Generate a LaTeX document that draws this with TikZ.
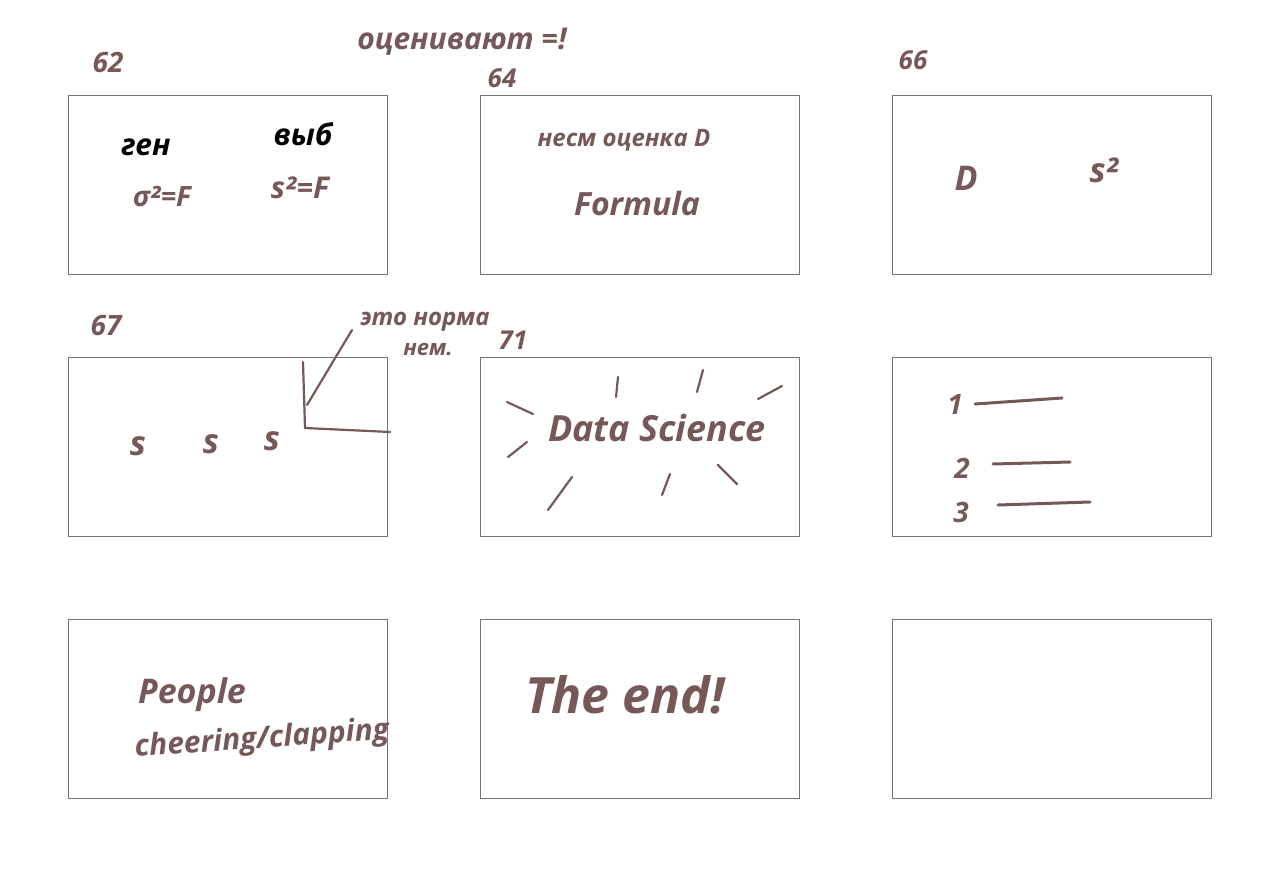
\documentclass[tikz,border=0pt]{standalone}
\usepackage{fontspec}
\setmainfont{Open Sans}
\begin{document}
\begin{tikzpicture}[x=1pt,y=-1pt,
  frame/.style={draw=black!55,line width=0.8pt,minimum width=319pt,minimum height=179pt,anchor=north west,inner sep=0pt},
  ink/.style={text=inkc,font=\fontsize{#1}{#1}\selectfont\itshape\bfseries,inner sep=0pt},
  inkb/.style={text=black,font=\fontsize{#1}{#1}\selectfont\bfseries\itshape,inner sep=0pt},
  stroke/.style={draw=inkc,line width=2.2pt,line cap=round}]
\definecolor{inkc}{RGB}{118,88,88}
\useasboundingbox (0,0) rectangle (1280,894);
\fill[white] (0,0) rectangle (1280,894);
% frames
\node[frame] (f62) at (68,95) {};
\node[frame] (f64) at (480,95) {};
\node[frame] (f66) at (892,95) {};
\node[frame] (f67) at (68,357) {};
\node[frame] (f71) at (480,357) {};
\node[frame] (flist) at (892,357) {};
\node[frame] (fpeople) at (68,619) {};
\node[frame] (fend) at (480,619) {};
\node[frame] (fempty) at (892,619) {};
% frame numbers
\node[ink=28] (n62) at (108,62) {62};
\node[ink=26] (n64) at (502,78) {64};
\node[ink=26] (n66) at (913,60) {66};
\node[ink=28] (n67) at (106,325) {67};
\node[ink=26] (n71) at (513,340) {71};
\node[ink=30] (note) at (462,42) {оценивают =!};
% frame 62
\node[inkb=30] (gen) at (146,147) {ген};
\node[inkb=30] (vyb) at (303,134) {выб};
\node[ink=28] (sigma) at (162,196) {σ²=F};
\node[ink=30] (s2f) at (300,188) {s²=F};
% frame 64
\node[ink=24] (nesm) at (624,140) {несм оценка D};
\node[ink=32] (formula) at (637,203) {Formula};
% frame 66
\node[ink=34] (d66) at (966,178) {D};
\node[ink=34] (s66) at (1104,170) {s²};
% frame 67
\node[ink=34] (sa) at (138,446) {s};
\node[ink=34] (sb) at (211,444) {s};
\node[ink=34] (sc) at (272,441) {s};
\node[ink=24] (eto) at (425,322) {это норма};
\node[ink=22] (nem) at (428,350) {нем.};
\coordinate (bt) at (303,362);
\coordinate (bc) at (305,428);
\coordinate (br) at (390,432);
\coordinate (dtop) at (352,330);
\coordinate (dbot) at (307,405);
\draw[stroke] (bt) -- (bc) -- (br);
\draw[stroke] (dtop) -- (dbot);
% frame 71
\node[ink=36] (ds) at (657,428) {Data Science};
\coordinate (s1) at (507,402); \coordinate (e1) at (533,414);
\coordinate (s2) at (618,377); \coordinate (e2) at (616,397);
\coordinate (s3) at (703,370); \coordinate (e3) at (697,392);
\coordinate (s4) at (782,386); \coordinate (e4) at (758,399);
\coordinate (s5) at (527,442); \coordinate (e5) at (508,457);
\coordinate (s6) at (572,477); \coordinate (e6) at (548,510);
\coordinate (s7) at (670,474); \coordinate (e7) at (662,495);
\coordinate (s8) at (718,465); \coordinate (e8) at (737,484);
\foreach \i in {1,...,8}{\draw[stroke] (s\i) -- (e\i);}
% list frame
\node[ink=28] (l1) at (955,405) {1};
\node[ink=28] (l2) at (962,468) {2};
\node[ink=28] (l3) at (961,512) {3};
\coordinate (l1a) at (975,404); \coordinate (l1b) at (1062,398);
\coordinate (l2a) at (993,464); \coordinate (l2b) at (1070,462);
\coordinate (l3a) at (998,505); \coordinate (l3b) at (1090,502);
\draw[stroke,line width=3pt] (l1a) -- (l1b);
\draw[stroke,line width=3pt] (l2a) -- (l2b);
\draw[stroke,line width=3pt] (l3a) -- (l3b);
% people
\node[ink=34] (people) at (192,695) {People};
\node[ink=30,rotate=4] (cheer) at (262,740) {cheering/clapping};
% the end
\node[ink=50] (theend) at (625,695) {The end!};
\end{tikzpicture}
\end{document}
